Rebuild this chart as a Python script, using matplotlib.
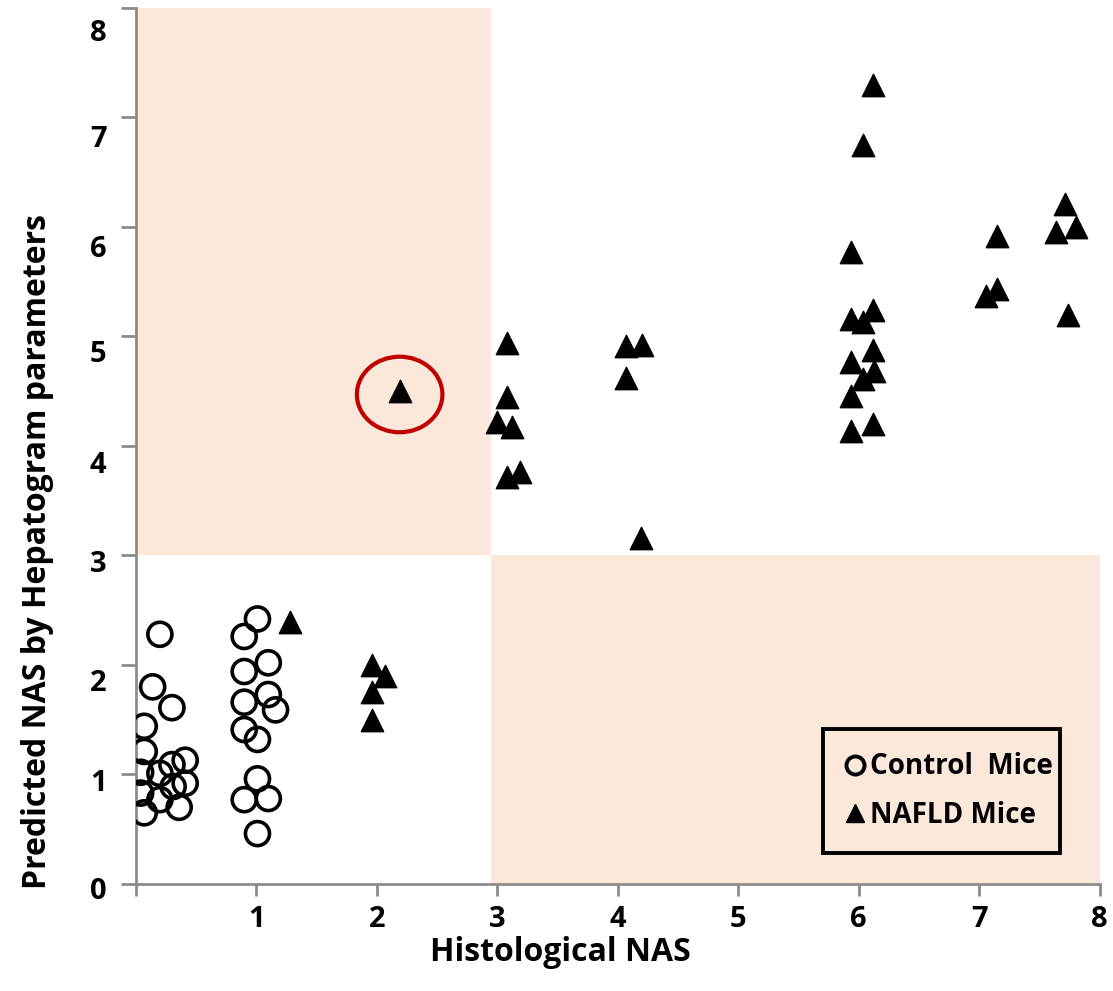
import matplotlib.pyplot as plt
import matplotlib.transforms as mtransforms
from matplotlib.patches import Rectangle, Ellipse
from matplotlib.lines import Line2D

# Control mice (open circles)
control_x = [0.20, 0.14, 0.30, 0.07, 0.07, 0.04, 0.20, 0.30, 0.41, 0.04, 0.20, 0.31, 0.41, 0.07, 0.36,
             1.01, 0.90, 1.10, 0.90, 1.10, 0.90, 1.16, 0.90, 1.01, 1.01, 0.90, 1.10, 1.01]
control_y = [2.28, 1.80, 1.61, 1.44, 1.21, 1.02, 1.01, 1.09, 1.13, 0.83, 0.77, 0.89, 0.92, 0.65, 0.70,
             2.42, 2.26, 2.02, 1.94, 1.73, 1.66, 1.59, 1.41, 1.32, 0.96, 0.77, 0.78, 0.46]

# NAFLD mice (filled triangles)
nafld_x = [1.28, 1.96, 2.07, 1.96, 1.96, 2.19,
           3.08, 3.08, 3.00, 3.12, 3.08, 3.19,
           4.07, 4.20, 4.07, 4.19,
           6.12, 6.04, 5.94, 5.94, 6.12, 6.04, 6.12, 5.94, 6.13, 6.04, 5.94, 5.94, 6.12,
           7.15, 7.15, 7.06, 7.71, 7.64, 7.80, 7.74]
nafld_y = [2.39, 2.00, 1.90, 1.75, 1.50, 4.50,
           4.94, 4.45, 4.22, 4.17, 3.72, 3.76,
           4.91, 4.92, 4.62, 3.16,
           7.30, 6.75, 5.77, 5.16, 5.24, 5.13, 4.88, 4.77, 4.68, 4.61, 4.46, 4.14, 4.20,
           5.92, 5.43, 5.37, 6.21, 5.95, 6.00, 5.20]

# misclassified point highlighted
outlier = (2.19, 4.47)
cutoff = 2.95
ticks = list(range(0, 9))

shade = "#FCE8DA"
grey = "#8C8C8C"
font = "Open Sans"

fig = plt.figure(figsize=(11.13, 9.91), dpi=100)
ax = fig.add_axes([0.122, 0.108, 0.866, 0.884])
ax.set_xlim(0, 8)
ax.set_ylim(0, 8)

# shaded quadrants
ax.add_patch(Rectangle((0, 3), cutoff, 5, facecolor=shade, edgecolor="none", zorder=0))
ax.add_patch(Rectangle((cutoff, 0), 8 - cutoff, 3, facecolor=shade, edgecolor="none", zorder=0))

ax.scatter(control_x, control_y, s=300, facecolors="none", edgecolors="black",
           linewidths=2.6, marker="o", zorder=3)
ax.scatter(nafld_x, nafld_y, s=260, color="black", marker="^", zorder=3)

ax.add_patch(Ellipse(outlier, 0.71, 0.69, facecolor="none", edgecolor="#C00000",
                     linewidth=3, zorder=4))

for side in ["top", "right"]:
    ax.spines[side].set_visible(False)
for side in ["left", "bottom"]:
    ax.spines[side].set_color(grey)
    ax.spines[side].set_linewidth(2)

ax.set_xticks(ticks)
ax.set_xticklabels([""] + [str(t) for t in ticks[1:]])
ax.set_yticks(ticks)
ax.set_yticklabels([str(t) for t in ticks])
ax.tick_params(axis="x", direction="out", length=8.5, width=2, color=grey, pad=7)
ax.tick_params(axis="y", direction="out", length=11, width=2, color=grey, pad=10)
for lab in ax.get_xticklabels() + ax.get_yticklabels():
    lab.set_fontfamily(font)
    lab.set_fontweight("bold")
    lab.set_fontsize(21)

# y labels sit a little below their ticks, as in the original
shift_px = [4, 6, 15, 6, 16, 15, 19, 19, 22]
for lab, dy in zip(ax.get_yticklabels(), shift_px):
    lab.set_transform(lab.get_transform() +
                      mtransforms.ScaledTranslation(0, -dy / 100, fig.dpi_scale_trans))

ax.set_xlabel("Histological NAS", fontsize=23, fontweight="bold", family=font)
ax.xaxis.set_label_coords(0.44, -0.059)
ax.set_ylabel("Predicted NAS by Hepatogram parameters", fontsize=23, fontweight="bold",
              family=font)
ax.yaxis.set_label_coords(-0.085, 0.38)

handles = [
    Line2D([], [], linestyle="none", marker="o", markersize=13, markerfacecolor="none",
           markeredgecolor="black", markeredgewidth=2.8, label="Control  Mice"),
    Line2D([], [], linestyle="none", marker="^", markersize=13, color="black", label="NAFLD Mice"),
]
leg = ax.legend(handles=handles, loc="lower left", bbox_to_anchor=(0.713, 0.035, 0.246, 0.144),
                mode="expand", frameon=True, fancybox=False, framealpha=1,
                handlelength=0.6, handletextpad=0.25,
                borderpad=0.85, borderaxespad=0, labelspacing=0.7,
                prop={"family": font, "weight": "bold", "size": 20})
leg.get_frame().set_edgecolor("black")
leg.get_frame().set_linewidth(2.8)
leg.get_frame().set_facecolor("none")

fig.savefig("out.png", dpi=100)
